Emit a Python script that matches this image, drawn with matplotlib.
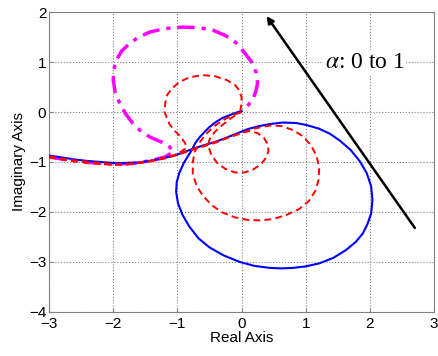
import numpy as np
import matplotlib
matplotlib.use('Agg')
import matplotlib.pyplot as plt

plt.rcParams['font.family'] = ['Liberation Sans', 'DejaVu Sans']
plt.rcParams['mathtext.fontset'] = 'stix'

# curves (real, imaginary)
blue_pts = [(-3.0, -0.87), (-2.8, -0.91), (-2.6, -0.95), (-2.4, -0.98), (-2.2, -1.0), (-2.0, -1.02),
            (-1.8, -1.02), (-1.6, -1.01), (-1.4, -0.97), (-1.2, -0.92), (-1.0, -0.85), (-0.81, -0.76),
            (-0.6, -0.67), (-0.39, -0.59), (-0.15, -0.47), (0.1, -0.34), (0.28, -0.28), (0.45, -0.24),
            (0.64, -0.21), (0.85, -0.22), (1.01, -0.26), (1.2, -0.33), (1.37, -0.43), (1.53, -0.57),
            (1.7, -0.76), (1.84, -0.98), (1.95, -1.22), (2.02, -1.49), (2.04, -1.76), (2.02, -2.03),
            (1.96, -2.25), (1.89, -2.43), (1.78, -2.6), (1.63, -2.76), (1.43, -2.92), (1.21, -3.03),
            (1.0, -3.09), (0.8, -3.12), (0.62, -3.13), (0.44, -3.12), (0.2, -3.08), (-0.03, -3.0),
            (-0.28, -2.87), (-0.5, -2.71), (-0.67, -2.53), (-0.81, -2.3), (-0.92, -2.06), (-0.99, -1.83),
            (-1.02, -1.6), (-1.01, -1.4), (-0.97, -1.22), (-0.9, -1.02), (-0.78, -0.77), (-0.72, -0.62),
            (-0.65, -0.5), (-0.57, -0.39), (-0.5, -0.3), (-0.4, -0.2), (-0.3, -0.12), (-0.2, -0.07),
            (-0.1, -0.02), (0.0, 0.02)]

red_a_pts = [(-3.0, -0.9), (-2.6, -0.98), (-2.2, -1.03), (-2.0, -1.05), (-1.8, -1.05), (-1.5, -1.0),
             (-1.2, -0.92), (-1.0, -0.84), (-0.86, -0.72), (-0.88, -0.62), (-0.96, -0.48), (-1.04, -0.38),
             (-1.12, -0.25), (-1.17, -0.1), (-1.2, 0.0), (-1.19, 0.17), (-1.16, 0.34), (-1.08, 0.48),
             (-0.97, 0.6), (-0.82, 0.69), (-0.62, 0.74), (-0.42, 0.72), (-0.23, 0.64), (-0.1, 0.54),
             (-0.04, 0.44), (0.0, 0.3), (0.0, 0.18), (-0.02, 0.02)]

red_b_pts = [(-3.0, -0.89), (-2.6, -0.97), (-2.2, -1.02), (-2.0, -1.04), (-1.8, -1.04), (-1.5, -1.0),
             (-1.2, -0.92), (-1.0, -0.85), (-0.8, -0.76), (-0.6, -0.69), (-0.4, -0.61), (-0.2, -0.51),
             (0.0, -0.42), (0.12, -0.38), (0.25, -0.42), (0.35, -0.52), (0.41, -0.65), (0.42, -0.78),
             (0.38, -0.92), (0.3, -1.05), (0.18, -1.15), (0.05, -1.21), (-0.1, -1.21), (-0.25, -1.14),
             (-0.38, -1.02), (-0.47, -0.86), (-0.52, -0.68), (-0.5, -0.55), (-0.42, -0.4), (-0.3, -0.26),
             (-0.18, -0.14), (-0.08, -0.05), (0.0, 0.0)]

red_c_pts = [(-3.0, -0.91), (-2.6, -0.99), (-2.2, -1.04), (-2.0, -1.06), (-1.8, -1.05), (-1.5, -1.01),
             (-1.2, -0.93), (-1.0, -0.86), (-0.8, -0.77), (-0.55, -0.66), (-0.3, -0.55), (-0.05, -0.44),
             (0.2, -0.33), (0.44, -0.27), (0.62, -0.28), (0.8, -0.36), (0.95, -0.48), (1.08, -0.66),
             (1.17, -0.88), (1.21, -1.12), (1.2, -1.36), (1.15, -1.58), (1.05, -1.78), (0.9, -1.94),
             (0.7, -2.06), (0.5, -2.14), (0.3, -2.17), (0.1, -2.16), (-0.1, -2.11), (-0.3, -2.01),
             (-0.46, -1.87), (-0.6, -1.68), (-0.7, -1.48), (-0.76, -1.24), (-0.76, -1.0), (-0.73, -0.8),
             (-0.66, -0.62), (-0.56, -0.45), (-0.44, -0.3), (-0.3, -0.17), (-0.15, -0.07), (0.0, 0.0)]

magenta_pts = [(-3.0, -0.9), (-2.7, -0.96), (-2.4, -1.01), (-2.0, -1.04), (-1.7, -1.03), (-1.4, -0.97),
               (-1.2, -0.9), (-1.06, -0.8), (-1.12, -0.7), (-1.25, -0.6), (-1.43, -0.5), (-1.58, -0.37),
               (-1.7, -0.22), (-1.81, -0.03), (-1.9, 0.18), (-1.97, 0.4), (-2.0, 0.64), (-1.99, 0.85),
               (-1.95, 1.04), (-1.87, 1.22), (-1.74, 1.38), (-1.6, 1.5), (-1.43, 1.6), (-1.2, 1.67),
               (-0.92, 1.7), (-0.68, 1.69), (-0.45, 1.64), (-0.25, 1.53), (-0.08, 1.38), (0.05, 1.18),
               (0.17, 0.98), (0.23, 0.78), (0.25, 0.58), (0.22, 0.4), (0.17, 0.24), (0.09, 0.12),
               (0.02, 0.04)]

arrow_tail = (2.7, -2.32)
arrow_head = (0.39, 1.92)

fig = plt.figure(figsize=(4.38, 3.56), dpi=100)
ax = fig.add_axes([0.112, 0.124, 0.879, 0.842])

def xy(pts):
    a = np.array(pts)
    return a[:, 0], a[:, 1]

ax.plot(*xy(blue_pts), color='#0000FF', lw=1.5, zorder=3)
for pts in (red_a_pts, red_b_pts, red_c_pts):
    ax.plot(*xy(pts), color='#FF0000', lw=1.4, ls=(0, (3.5, 2.2)), zorder=4)
ax.plot(*xy(magenta_pts), color='#FF00FF', lw=2.5, ls=(0, (5, 2, 1.2, 2)), zorder=2)

ax.annotate('', xy=arrow_head, xytext=arrow_tail,
            arrowprops=dict(arrowstyle='-|>', color='black', lw=1.8, mutation_scale=10,
                            shrinkA=0, shrinkB=0))
ax.text(1.92, 1.0, r'$\alpha$: 0 to 1', fontsize=17, family='Liberation Serif',
        ha='center', va='center', bbox=dict(facecolor='white', edgecolor='none', pad=1))

ax.set_xlim(-3, 3)
ax.set_ylim(-4, 2)
ax.set_xticks(np.arange(-3, 4, 1))
ax.set_yticks(np.arange(-4, 3, 1))
ax.grid(True, ls=':', color='#808080', lw=0.8)
ax.tick_params(direction='in', length=3, labelsize=11, color='#808080', pad=2)
ax.tick_params(axis='x', pad=3.5)
for s in ax.spines.values():
    s.set_color('#808080')
ax.set_xlabel('Real Axis', fontsize=11, labelpad=0)
ax.set_ylabel('Imaginary Axis', fontsize=11, labelpad=2)

fig.savefig('out.png', dpi=100)
